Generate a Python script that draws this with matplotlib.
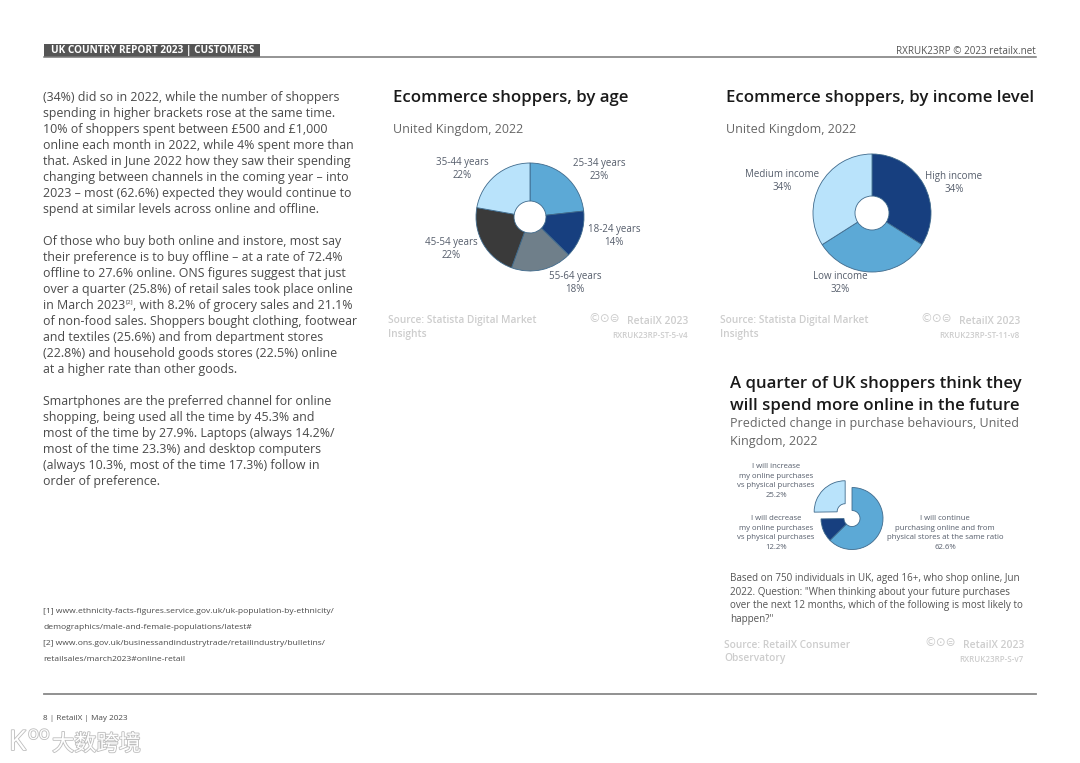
import matplotlib
matplotlib.use('Agg')
import matplotlib.pyplot as plt
import matplotlib.patheffects as pe

plt.rcParams['font.family'] = ['Open Sans', 'DejaVu Sans']

W = 1080
H = 763

# chart data
age_labels = ['25-34 years\n23%', '18-24 years\n14%', '55-64 years\n18%', '45-54 years\n22%', '35-44 years\n22%']
age_values = [23, 14, 18, 22, 22]
age_colors = ['#5CA9D6', '#173F7F', '#6F7F8A', '#3A3A3A', '#B9E3FB']

income_labels = ['High income\n34%', 'Low income\n32%', 'Medium income\n34%']
income_values = [34, 32, 34]
income_colors = ['#173F7F', '#5CA9D6', '#B9E3FB']

future_labels = ['I will continue\npurchasing online and from\nphysical stores at the same ratio\n62.6%',
                 'I will decrease\nmy online purchases\nvs physical purchases\n12.2%',
                 'I will increase\nmy online purchases\nvs physical purchases\n25.2%']
future_values = [62.6, 12.2, 25.2]
future_colors = ['#5CA9D6', '#173F7F', '#B9E3FB']

# page text, '' = blank line
body_lines = [
    '(34%) did so in 2022, while the number of shoppers',
    'spending in higher brackets rose at the same time.',
    '10% of shoppers spent between £500 and £1,000',
    'online each month in 2022, while 4% spent more than',
    'that. Asked in June 2022 how they saw their spending',
    'changing between channels in the coming year – into',
    '2023 – most (62.6%) expected they would continue to',
    'spend at similar levels across online and offline.',
    '',
    'Of those who buy both online and instore, most say',
    'their preference is to buy offline – at a rate of 72.4%',
    'offline to 27.6% online. ONS figures suggest that just',
    'over a quarter (25.8%) of retail sales took place online',
    '',  # this one has the superscript, drawn on its own below
    'of non-food sales. Shoppers bought clothing, footwear',
    'and textiles (25.6%) and from department stores',
    '(22.8%) and household goods stores (22.5%) online',
    'at a higher rate than other goods.',
    '',
    'Smartphones are the preferred channel for online',
    'shopping, being used all the time by 45.3% and',
    'most of the time by 27.9%. Laptops (always 14.2%/',
    'most of the time 23.3%) and desktop computers',
    '(always 10.3%, most of the time 17.3%) follow in',
    'order of preference.',
]
footnotes = [
    '[1] www.ethnicity-facts-figures.service.gov.uk/uk-population-by-ethnicity/',
    'demographics/male-and-female-populations/latest#',
    '[2] www.ons.gov.uk/businessandindustrytrade/retailindustry/bulletins/',
    'retailsales/march2023#online-retail',
]
note_lines = [
    'Based on 750 individuals in UK, aged 16+, who shop online, Jun',
    '2022. Question: "When thinking about your future purchases',
    'over the next 12 months, which of the following is most likely to',
    'happen?"',
]

TEXT = '#4A4A4A'
LABEL = '#555D6B'
SOURCE = '#CDCDCD'

fig = plt.figure(figsize=(W / 100, H / 100), dpi=100, facecolor='white')
page = fig.add_axes([0, 0, 1, 1])
page.set_xlim(0, W)
page.set_ylim(H, 0)
page.axis('off')


def put(x, y, s, size=8.9, color=TEXT, ha='left', weight='normal', **kw):
    return page.text(x, y, s, fontsize=size, color=color, ha=ha, va='center', fontweight=weight, **kw)


def donut(cx, cy, r, hole, values, colors, explode=None):
    pad = 1.5
    ax = fig.add_axes([(cx - r * pad) / W, 1 - (cy + r * pad) / H, 2 * r * pad / W, 2 * r * pad / H])
    ax.pie(values, colors=colors, startangle=90, counterclock=False, radius=1, explode=explode,
           wedgeprops={'width': 1 - hole / r, 'edgecolor': '#3F6A8C', 'linewidth': 0.6})
    ax.set_xlim(-pad, pad)
    ax.set_ylim(-pad, pad)
    return ax


def source_block(x, y, right, src1, src2, code):
    put(x, y, src1, size=7.3, color=SOURCE, weight=600)
    put(x, y + 14, src2, size=7.3, color=SOURCE, weight=600)
    put(right, y, 'RetailX 2023', size=7.4, color=SOURCE, ha='right', weight=600)
    put(right, y + 14, code, size=5.8, color=SOURCE, ha='right', weight=600)
    put(right - 84, y - 2, '©⊙⊜', size=8.5, color=SOURCE, ha='center', family=['DejaVu Sans'])


# header
page.plot([44, 1036], [57, 57], color='#777777', lw=1.1)
page.fill_between([44, 260], 44, 57, color='#555555', lw=0)
put(51, 50, 'UK COUNTRY REPORT 2023 | CUSTOMERS', size=7.2, color='white', weight='bold')
put(1036, 51, 'RXRUK23RP © 2023 retailx.net', size=7.1, color='#555555', ha='right')

# left column
for i, line in enumerate(body_lines):
    if line:
        put(43, 97.5 + 16 * i, line)
put(43, 305.5, 'in March 2023')
put(125, 302, '[2]', size=4.5)
put(133, 305.5, ', with 8.2% of grocery sales and 21.1%')
for i, line in enumerate(footnotes):
    put(43, 611.5 + 16 * i, line, size=6.1)

# footer
page.plot([44, 1036], [694, 694], color='#888888', lw=1.3)
put(43, 718.5, '8 | RetailX | May 2023', size=5.9)

# charts
TITLE = {'size': 12.1, 'color': '#1A1A1A', 'weight': 600}
SUB = {'size': 9.0, 'color': '#666666'}

put(393, 97.5, 'Ecommerce shoppers, by age', **TITLE)
put(393, 129.5, 'United Kingdom, 2022', **SUB)
donut(530, 217, 54, 16, age_values, age_colors)
age_label_pos = [(599, 170), (614, 236), (575, 283), (451, 249), (462, 169)]
for (x, y), s in zip(age_label_pos, age_labels):
    put(x, y, s, size=7, color=LABEL, ha='center', linespacing=1.25)
source_block(388, 321, 688, 'Source: Statista Digital Market', 'Insights', 'RXRUK23RP-ST-5-v4')

put(726, 97.5, 'Ecommerce shoppers, by income level', **TITLE)
put(726, 129.5, 'United Kingdom, 2022', **SUB)
donut(872, 213, 59, 17, income_values, income_colors)
income_label_pos = [(954, 183), (840, 283), (782, 181)]
for (x, y), s in zip(income_label_pos, income_labels):
    put(x, y, s, size=7, color=LABEL, ha='center', linespacing=1.25)
source_block(720, 321, 1020, 'Source: Statista Digital Market', 'Insights', 'RXRUK23RP-ST-11-v8')

put(730, 383.5, 'A quarter of UK shoppers think they', **TITLE)
put(730, 406.5, 'will spend more online in the future', **TITLE)
put(730, 424, 'Predicted change in purchase behaviours, United', **SUB)
put(730, 441, 'Kingdom, 2022', **SUB)
donut(852, 518.5, 31, 8, future_values, future_colors, explode=[0, 0, 0.31])
future_label_pos = [(945, 533), (776, 533), (776, 481)]
for (x, y), s in zip(future_label_pos, future_labels):
    put(x, y, s, size=5.55, color=LABEL, ha='center', linespacing=1.55)
for i, line in enumerate(note_lines):
    put(730, 578.5 + 13.7 * i, line, size=7.1, color='#555555')
source_block(724, 645, 1024, 'Source: RetailX Consumer', 'Observatory', 'RXRUK23RP-S-v7')

# watermark
halo = [pe.withStroke(linewidth=1.2, foreground='#BDBDBD')]
put(52, 744, '大数跨境', size=16, color='white', family=['Noto Sans CJK SC'], path_effects=halo)
put(9, 743, 'K', size=20, color='white', path_effects=halo)
put(28, 734, 'oo', size=13, color='white', path_effects=halo)

fig.savefig('out.png', dpi=100)
